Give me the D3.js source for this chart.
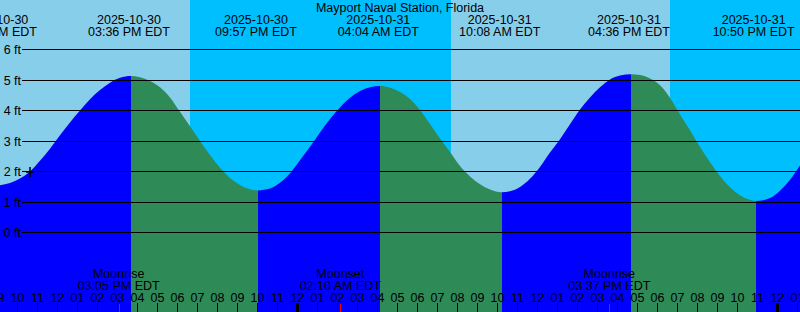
<!DOCTYPE html>
<html>
<head>
<meta charset="utf-8">
<script src="https://d3js.org/d3.v7.min.js"></script>
<style>
  body { margin: 0; background: #fff; }
  svg { display: block; }
  text { font-family: "Liberation Sans", Arial, sans-serif; font-size: 12.5px; fill: #000; }
</style>
</head>
<body>
<div id="my_dataviz"></div>

<script>

// ---- data ----
var title = "Mayport Naval Station, Florida"

// tide level samples (local time, feet)
var tideTimes = [
  "2025-10-30 09:03","2025-10-30 09:33","2025-10-30 10:03","2025-10-30 10:33","2025-10-30 11:03",
  "2025-10-30 11:33","2025-10-30 12:03","2025-10-30 12:33","2025-10-30 13:03","2025-10-30 13:33",
  "2025-10-30 14:03","2025-10-30 14:33","2025-10-30 15:03","2025-10-30 15:36","2025-10-30 16:03",
  "2025-10-30 16:33","2025-10-30 17:03","2025-10-30 17:33","2025-10-30 18:03","2025-10-30 18:33",
  "2025-10-30 19:03","2025-10-30 19:33","2025-10-30 20:03","2025-10-30 20:33","2025-10-30 21:03",
  "2025-10-30 21:33","2025-10-30 21:57","2025-10-30 22:33","2025-10-30 23:03","2025-10-30 23:33",
  "2025-10-31 00:03","2025-10-31 00:33","2025-10-31 01:03","2025-10-31 01:33","2025-10-31 02:03",
  "2025-10-31 02:33","2025-10-31 03:03","2025-10-31 03:33","2025-10-31 04:04","2025-10-31 04:33",
  "2025-10-31 05:03","2025-10-31 05:33","2025-10-31 06:03","2025-10-31 06:33","2025-10-31 07:03",
  "2025-10-31 07:33","2025-10-31 08:03","2025-10-31 08:33","2025-10-31 09:03","2025-10-31 09:33",
  "2025-10-31 10:08","2025-10-31 10:33","2025-10-31 11:03","2025-10-31 11:33","2025-10-31 12:03",
  "2025-10-31 12:33","2025-10-31 13:03","2025-10-31 13:33","2025-10-31 14:03","2025-10-31 14:33",
  "2025-10-31 15:03","2025-10-31 15:33","2025-10-31 16:03","2025-10-31 16:36","2025-10-31 17:03",
  "2025-10-31 17:33","2025-10-31 18:03","2025-10-31 18:33","2025-10-31 19:03","2025-10-31 19:33",
  "2025-10-31 20:03","2025-10-31 20:33","2025-10-31 21:03","2025-10-31 21:33","2025-10-31 22:03",
  "2025-10-31 22:33","2025-10-31 22:50","2025-10-31 23:33","2025-11-01 00:03","2025-11-01 00:33",
  "2025-11-01 01:03"
]
var tideFeet = [
  1.55, 1.62, 1.77, 2.00, 2.35,
  2.75, 3.19, 3.61, 4.00, 4.37,
  4.67, 4.91, 5.07, 5.13, 5.09,
  4.97, 4.76, 4.43, 3.96, 3.48,
  3.00, 2.54, 2.12, 1.79, 1.56,
  1.42, 1.38, 1.44, 1.63, 1.94,
  2.37, 2.81, 3.28, 3.72, 4.10,
  4.42, 4.64, 4.76, 4.80, 4.75,
  4.61, 4.38, 4.02, 3.56, 3.08,
  2.64, 2.18, 1.84, 1.58, 1.41,
  1.32, 1.35, 1.49, 1.76, 2.15,
  2.62, 3.06, 3.55, 4.03, 4.43,
  4.76, 5.02, 5.15, 5.19, 5.16,
  5.05, 4.83, 4.42, 3.87, 3.35,
  2.80, 2.30, 1.85, 1.48, 1.22,
  1.07, 1.03, 1.13, 1.37, 1.73,
  2.20
]

// high / low tide labels along the top
var extremeTimes = ["2025-10-30 08:58","2025-10-30 15:36","2025-10-30 21:57","2025-10-31 04:04",
                    "2025-10-31 10:08","2025-10-31 16:36","2025-10-31 22:50"]

// sun and moon events
var sunTimes = ["2025-10-30 18:39","2025-10-31 07:42","2025-10-31 18:39"]
var sunKinds = ["Sunset","Sunrise","Sunset"]
var moonTimes = ["2025-10-30 15:05","2025-10-31 02:10","2025-10-31 15:37"]
var moonKinds = ["Moonrise","Moonset","Moonrise"]

// current time marker
var nowTime = "2025-10-30 10:33"
var nowFeet = 2.0

// y gridlines (ft)
var feetTicks = [0, 1, 2, 3, 4, 5, 6]

// hour ticks: first and last hour shown
var firstHour = "2025-10-30 09:00"
var lastHour = "2025-11-01 01:00"

// ---- setup ----
var width = 800, height = 312

var parse = d3.timeParse("%Y-%m-%d %H:%M")
var fmtDate = d3.timeFormat("%Y-%m-%d")
var fmtTime = d3.timeFormat("%I:%M %p EDT")

var svg = d3.select("#my_dataviz")
  .append("svg")
    .attr("width", width)
    .attr("height", height)

// time scale: 20px per hour
var x = d3.scaleTime()
  .domain([parse("2025-10-30 09:09"), parse("2025-11-01 01:09")])
  .range([0, width])

var y = d3.scaleLinear()
  .domain([0, 6])
  .range([232.5, 49.5])

// background: day / night
var sun = sunTimes.map(function(t, i){ return {t: parse(t), kind: sunKinds[i]} })
var bands = []
var start = x.domain()[0]
var isDay = sun[0].kind == "Sunset"
sun.forEach(function(s){
  bands.push({from: start, to: s.t, day: isDay})
  start = s.t
  isDay = s.kind == "Sunrise"
})
bands.push({from: start, to: x.domain()[1], day: isDay})

svg.selectAll("bands")
  .data(bands)
  .enter()
  .append("rect")
    .attr("x", function(d){ return Math.round(x(d.from)) })
    .attr("width", function(d){ return Math.round(x(d.to)) - Math.round(x(d.from)) })
    .attr("y", 0)
    .attr("height", height)
    .style("fill", function(d){ return d.day ? "#87ceeb" : "#00bfff" })

// tide fill: blue while rising, green while falling
var tide = tideTimes.map(function(t, i){ return {t: parse(t), v: tideFeet[i]} })

var tideG = svg.append("g")
  .attr("transform", "translate(2,0)")

var area = d3.area()
  .x(function(d){ return x(d.t) })
  .y0(height)
  .y1(function(d){ return y(d.v) })
  .curve(d3.curveMonotoneX)

// split into rising / falling runs
var segs = []
var s0 = 0
for (var i = 1; i < tide.length - 1; i++) {
  var up1 = tide[i].v > tide[i-1].v
  var up2 = tide[i+1].v > tide[i].v
  if (up1 != up2) { segs.push([s0, i]); s0 = i }
}
segs.push([s0, tide.length - 1])

var defs = svg.append("defs")
segs.forEach(function(sg, k){
  var x0 = Math.round(x(tide[sg[0]].t) + 2) - 2
  var x1 = Math.round(x(tide[sg[1]].t) + 2) - 2
  if (k == 0) x0 = -10
  if (k == segs.length - 1) x1 = width + 10
  defs.append("clipPath")
      .attr("id", "seg" + k)
    .append("rect")
      .attr("x", x0)
      .attr("y", 0)
      .attr("width", x1 - x0)
      .attr("height", height)
  tideG.append("path")
    .datum(tide)
    .attr("clip-path", "url(#seg" + k + ")")
    .attr("d", area)
    .style("fill", tide[sg[1]].v > tide[sg[0]].v ? "#0000ff" : "#2e8b57")
})

// gridlines and ft labels
svg.selectAll("grid")
  .data(feetTicks)
  .enter()
  .append("line")
    .attr("x1", 22)
    .attr("x2", width)
    .attr("y1", function(d){ return Math.floor(y(d)) + 0.5 })
    .attr("y2", function(d){ return Math.floor(y(d)) + 0.5 })
    .style("stroke", "#000")
    .style("stroke-width", 1)

svg.selectAll("ylabels")
  .data(feetTicks)
  .enter()
  .append("text")
    .attr("x", 21)
    .attr("y", function(d){ return Math.floor(y(d)) + 4.5 })
    .attr("text-anchor", "end")
    .text(function(d){ return d + " ft" })

// title
svg.append("text")
  .attr("x", width / 2)
  .attr("y", 11.5)
  .attr("text-anchor", "middle")
  .text(title)

// high / low labels
var ext = extremeTimes.map(parse)
var extLabels = svg.selectAll("extlabels")
  .data(ext)
  .enter()
  .append("text")
    .attr("text-anchor", "middle")
    .attr("x", function(d){ return x(d) })
extLabels.append("tspan")
  .attr("x", function(d){ return x(d) })
  .attr("y", 24)
  .text(function(d){ return fmtDate(d) })
extLabels.append("tspan")
  .attr("x", function(d){ return x(d) })
  .attr("y", 36)
  .text(function(d){ return fmtTime(d) })

// moon labels
var moon = moonTimes.map(function(t, i){ return {t: parse(t), kind: moonKinds[i]} })
var moonLabels = svg.selectAll("moonlabels")
  .data(moon)
  .enter()
  .append("text")
    .attr("text-anchor", "middle")
moonLabels.append("tspan")
  .attr("x", function(d){ return x(d.t) })
  .attr("y", 278)
  .text(function(d){ return d.kind })
moonLabels.append("tspan")
  .attr("x", function(d){ return x(d.t) })
  .attr("y", 290)
  .text(function(d){ return fmtTime(d.t) })

// hour axis along the bottom
var hours = d3.timeHour.range(parse(firstHour), d3.timeMinute.offset(parse(lastHour), 1))
var xAxis = svg.append("g")
  .attr("transform", "translate(0," + height + ")")
  .call(d3.axisTop(x)
    .tickValues(hours)
    .tickFormat(d3.timeFormat("%I"))
    .tickSize(9)
    .tickPadding(1))
xAxis.select(".domain").remove()
xAxis.attr("font-family", null).attr("font-size", null)
xAxis.selectAll("line").style("stroke", "#000")
xAxis.selectAll(".tick")
  .filter(function(d){ return d.getHours() == 0 })
  .select("line")
    .style("stroke-width", 3)

// moon event ticks
svg.selectAll("moonticks")
  .data(moon)
  .enter()
  .append("line")
    .attr("x1", function(d){ return Math.round(x(d.t)) + 0.5 })
    .attr("x2", function(d){ return Math.round(x(d.t)) + 0.5 })
    .attr("y1", 304)
    .attr("y2", height)
    .style("stroke", "#ff0000")

// current time marker
var nx = Math.round(x(parse(nowTime)) + 2)
var ny = Math.round(y(nowFeet))
var mark = svg.append("g").style("stroke", "#000").style("stroke-width", 1.5)
mark.append("line").attr("x1", nx - 4).attr("x2", nx + 4).attr("y1", ny).attr("y2", ny)
mark.append("line").attr("x1", nx).attr("x2", nx).attr("y1", ny - 5).attr("y2", ny + 5)

</script>
</body>
</html>
